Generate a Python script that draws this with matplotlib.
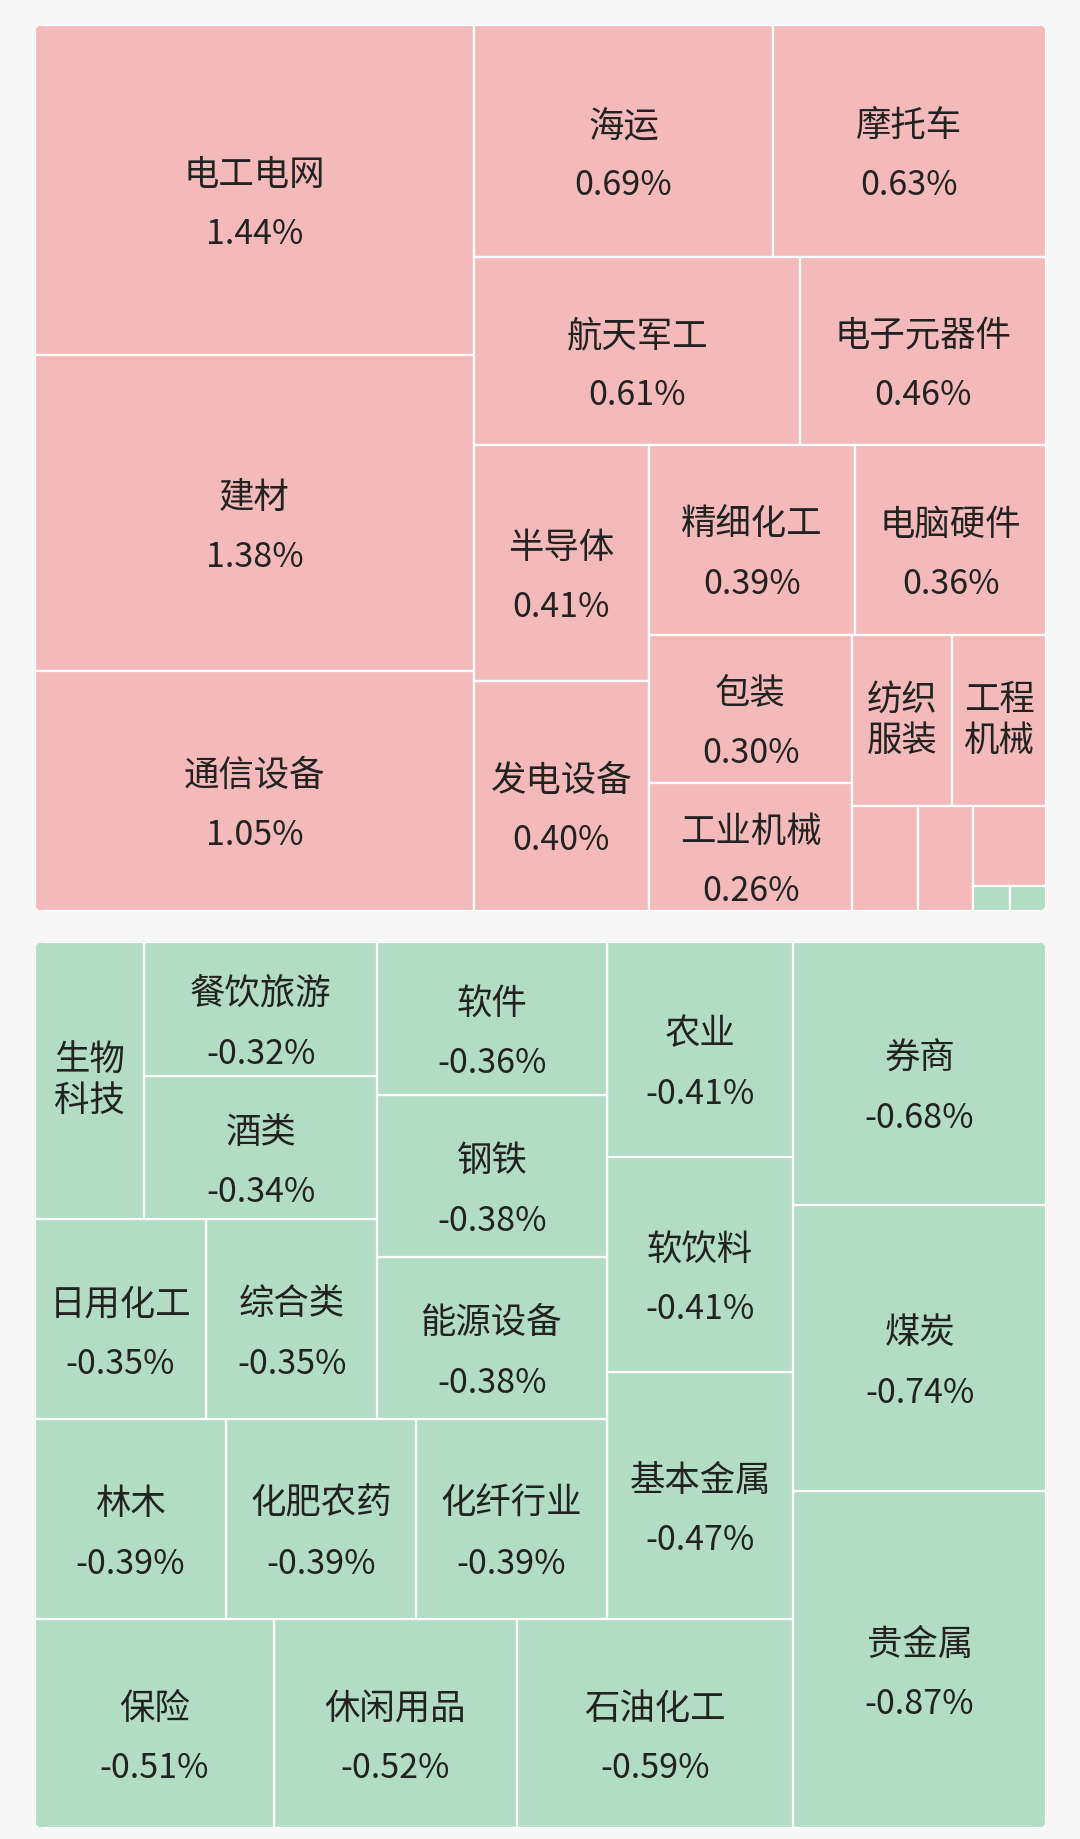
import matplotlib
matplotlib.use('Agg')
import matplotlib.pyplot as plt
from matplotlib.patches import Rectangle, FancyBboxPatch

plt.rcParams['font.family'] = ['Noto Sans CJK SC', 'DejaVu Sans']

# up panel: industries sorted by size, unnamed tiny cells at the end
up_names = ['电工电网', '建材', '通信设备', '海运', '摩托车', '航天军工', '电子元器件',
            '半导体', '发电设备', '精细化工', '电脑硬件', '包装', '工业机械',
            '纺织服装', '工程机械', '', '', '', '', '']
up_values = [1.44, 1.38, 1.05, 0.69, 0.63, 0.61, 0.46, 0.41, 0.40, 0.39, 0.36,
             0.30, 0.26, 0.17, 0.16, 0.068, 0.058, 0.058, -0.009, -0.009]
up_groups = [3, 2, 2, 2, 2, 2, 2, 1, 1, 1, 1, 1]

# down panel
down_names = ['贵金属', '煤炭', '券商', '石油化工', '休闲用品', '保险',
              '基本金属', '软饮料', '农业', '化纤行业', '化肥农药', '林木',
              '能源设备', '钢铁', '软件', '综合类', '日用化工', '酒类',
              '餐饮旅游', '生物科技']
down_values = [-0.87, -0.74, -0.68, -0.59, -0.52, -0.51, -0.47, -0.41, -0.41,
               -0.39, -0.39, -0.39, -0.38, -0.38, -0.36, -0.35, -0.35, -0.34,
               -0.32, -0.31]
down_groups = [3, 3, 3, 3, 3, 2, 2, 1]

RED = '#f4baba'
GREEN = '#b2ddc4'
BG = '#f7f7f7'
TXT = '#222222'


def layout(values, groups, w, h):
    # slice the rectangle group by group along its short side
    sizes = [abs(v) for v in values]
    x, y = 0.0, 0.0
    rects = []
    i = 0
    for n in groups:
        chunk = sizes[i:i + n]
        frac = sum(chunk) / sum(sizes[i:])
        if w >= h:
            cw = w * frac
            yy = y
            for s in chunk:
                ch = h * s / sum(chunk)
                rects.append((x, yy, cw, ch))
                yy += ch
            x += cw
            w -= cw
        else:
            rh = h * frac
            xx = x
            for s in chunk:
                cw = w * s / sum(chunk)
                rects.append((xx, y, cw, rh))
                xx += cw
            y += rh
            h -= rh
        i += n
    return rects


def label(ax, name, value, x, y, w, h):
    if not name:
        return
    cx, cy = x + w / 2, y + h / 2
    if len(name) * 35 + 12 <= w and h >= 110:
        ax.text(cx, cy - 15, name, ha='center', va='center', fontsize=25.5, color=TXT)
        ax.text(cx, cy + 45, '%.2f%%' % value, ha='center', va='center',
                fontsize=24.5, color=TXT)
    elif h >= 100:
        lines = '\n'.join(name[k:k + 2] for k in range(0, len(name), 2))
        ax.text(cx, cy, lines, ha='center', va='center', fontsize=25.5,
                color=TXT, linespacing=1.15)


def draw_panel(ax, names, values, groups, x0, y0, w, h, flip=False):
    panel = FancyBboxPatch((x0, y0), w, h, boxstyle='round,pad=0,rounding_size=9',
                           facecolor='none', edgecolor='none')
    ax.add_patch(panel)
    for name, v, (lx, ly, lw, lh) in zip(names, values, layout(values, groups, w, h)):
        if flip:
            lx, ly = w - lx - lw, h - ly - lh
        rx, ry = x0 + lx, y0 + ly
        r = Rectangle((rx, ry), lw, lh, facecolor=RED if v > 0 else GREEN,
                      edgecolor='white', linewidth=1.6)
        ax.add_patch(r)
        r.set_clip_path(panel)
        label(ax, name, v, rx, ry, lw, lh)


fig = plt.figure(figsize=(10.8, 18.39), dpi=100, facecolor=BG)
ax = fig.add_axes([0, 0, 1, 1])
ax.set_xlim(0, 1080)
ax.set_ylim(1839, 0)
ax.axis('off')

draw_panel(ax, up_names, up_values, up_groups, 35, 25, 1011, 886)
draw_panel(ax, down_names, down_values, down_groups, 35, 942, 1011, 886, flip=True)

fig.savefig('out.png', dpi=100, facecolor=BG)
